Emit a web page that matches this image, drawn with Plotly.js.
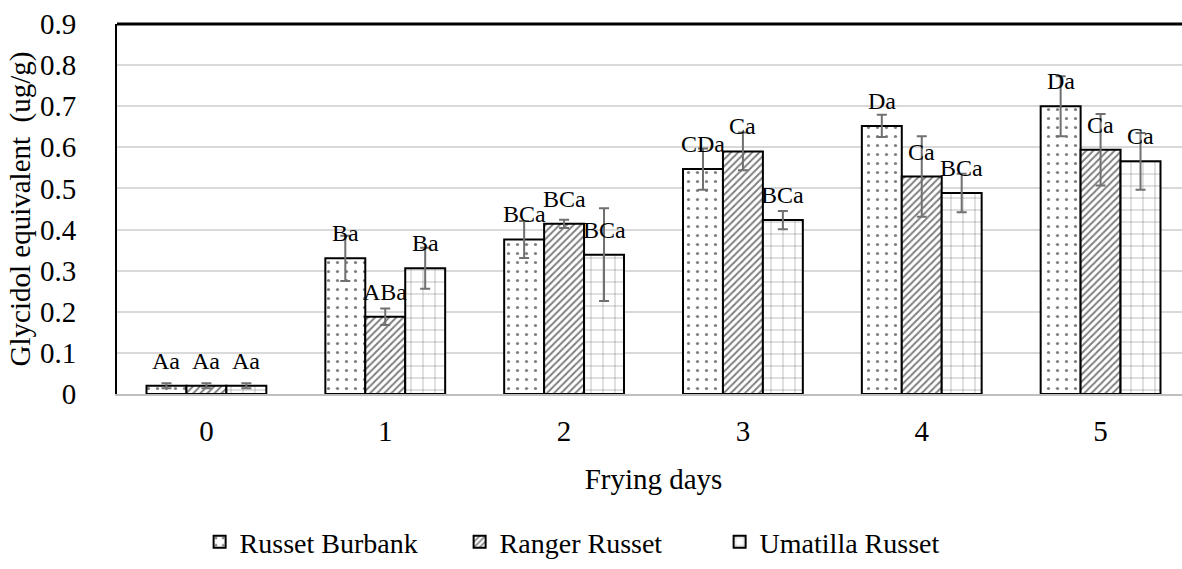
<!DOCTYPE html>
<html>
<head>
<meta charset="utf-8">
<script src="https://cdn.plot.ly/plotly-3.0.1.min.js"></script>
<style>
  html, body { margin: 0; padding: 0; overflow: hidden; background: #fff; }
  #chart { width: 1192px; height: 569px; }
</style>
</head>
<body>
<div id="chart"></div>
<script>
// ---- data ----
const days = ["0", "1", "2", "3", "4", "5"];
const seriesNames = ["Russet Burbank", "Ranger Russet", "Umatilla Russet"];

const russetBurbank    = [0.020, 0.330, 0.376, 0.547, 0.652, 0.700];
const russetBurbankErr = [0.006, 0.055, 0.045, 0.050, 0.027, 0.073];
const russetBurbankLbl = ["Aa", "Ba", "BCa", "CDa", "Da", "Da"];

const rangerRusset     = [0.020, 0.188, 0.414, 0.590, 0.529, 0.594];
const rangerRussetErr  = [0.006, 0.020, 0.010, 0.046, 0.098, 0.087];
const rangerRussetLbl  = ["Aa", "ABa", "BCa", "Ca", "Ca", "Ca"];

const umatillaRusset    = [0.020, 0.306, 0.339, 0.423, 0.489, 0.566];
const umatillaRussetErr = [0.006, 0.050, 0.113, 0.022, 0.047, 0.069];
const umatillaRussetLbl = ["Aa", "Ba", "BCa", "BCa", "BCa", "Ca"];

// ---- style ----
const FONT = "'Liberation Serif', 'Times New Roman', serif";
const bargap = 0.33;
const patterns = [
  {shape: ".", size: 9, solidity: 0.1, fgcolor: "#000", bgcolor: "#fff", fillmode: "overlay"},
  {shape: "/", size: 5, solidity: 0.4, fgcolor: "#000", bgcolor: "#fff", fillmode: "overlay"},
  {shape: "+", size: 12, solidity: 0.08, fgcolor: "#000", bgcolor: "#fff", fillmode: "overlay"}
];
const values = [russetBurbank, rangerRusset, umatillaRusset];
const errs = [russetBurbankErr, rangerRussetErr, umatillaRussetErr];
const lbls = [russetBurbankLbl, rangerRussetLbl, umatillaRussetLbl];

const traces = seriesNames.map((name, s) => ({
  type: "bar",
  name: name,
  x: days,
  y: values[s],
  marker: {color: "#fff", line: {color: "#000", width: 2}, pattern: patterns[s]},
  error_y: {type: "data", array: errs[s], visible: true, color: "#707070", thickness: 2, width: 5},
  hoverinfo: "y"
}));

// label annotations positioned through the axis scale (category index + group offset)
const barW = (1 - bargap) / seriesNames.length;
const annotations = [];
seriesNames.forEach((name, s) => {
  const off = (s - (seriesNames.length - 1) / 2) * barW;
  days.forEach((d, i) => {
    annotations.push({
      x: i + off, y: values[s][i], xref: "x", yref: "y",
      text: lbls[s][i], showarrow: false, yanchor: "middle", xanchor: "center",
      yshift: 25, font: {family: FONT, size: 24, color: "#000"}
    });
  });
});

const layout = {
  width: 1192, height: 569,
  margin: {l: 117, r: 2, t: 24, b: 172, pad: 0},
  paper_bgcolor: "#fff", plot_bgcolor: "#fff",
  font: {family: FONT, size: 28, color: "#000"},
  barmode: "group",
  bargap: bargap,
  bargroupgap: 0,
  showlegend: true,
  legend: {
    orientation: "h", x: 0.077, xanchor: "left", y: -0.40, yanchor: "middle",
    font: {family: FONT, size: 28, color: "#000"}, traceorder: "normal",
    itemwidth: 30, entrywidth: 215, entrywidthmode: "pixels"
  },
  xaxis: {
    type: "category",
    range: [-0.5, 5.5],
    showgrid: false, zeroline: false,
    showline: true, linecolor: "#bfbfbf", linewidth: 2,
    ticks: "", tickfont: {family: FONT, size: 29, color: "#000"},
    ticklabelstandoff: 10,
    title: {text: "Frying days", font: {family: FONT, size: 29, color: "#000"}, standoff: 23},
    automargin: false
  },
  yaxis: {
    range: [0, 0.9], dtick: 0.1, tick0: 0,
    showgrid: true, gridcolor: "#d9d9d9", gridwidth: 2,
    zeroline: false,
    showline: true, linecolor: "#000", linewidth: 2,
    ticks: "", tickfont: {family: FONT, size: 29, color: "#000"},
    ticklabelstandoff: 33,
    title: {text: "Glycidol equivalent  (ug/g)", font: {family: FONT, size: 29, color: "#000"}, standoff: 1},
    automargin: false
  },
  shapes: [
    {type: "line", xref: "paper", yref: "paper", x0: 0, x1: 1, y0: 1, y1: 1, line: {color: "#000", width: 3}}
  ],
  annotations: annotations
};

Plotly.newPlot("chart", traces, layout, {displayModeBar: false, staticPlot: true});
</script>
</body>
</html>
